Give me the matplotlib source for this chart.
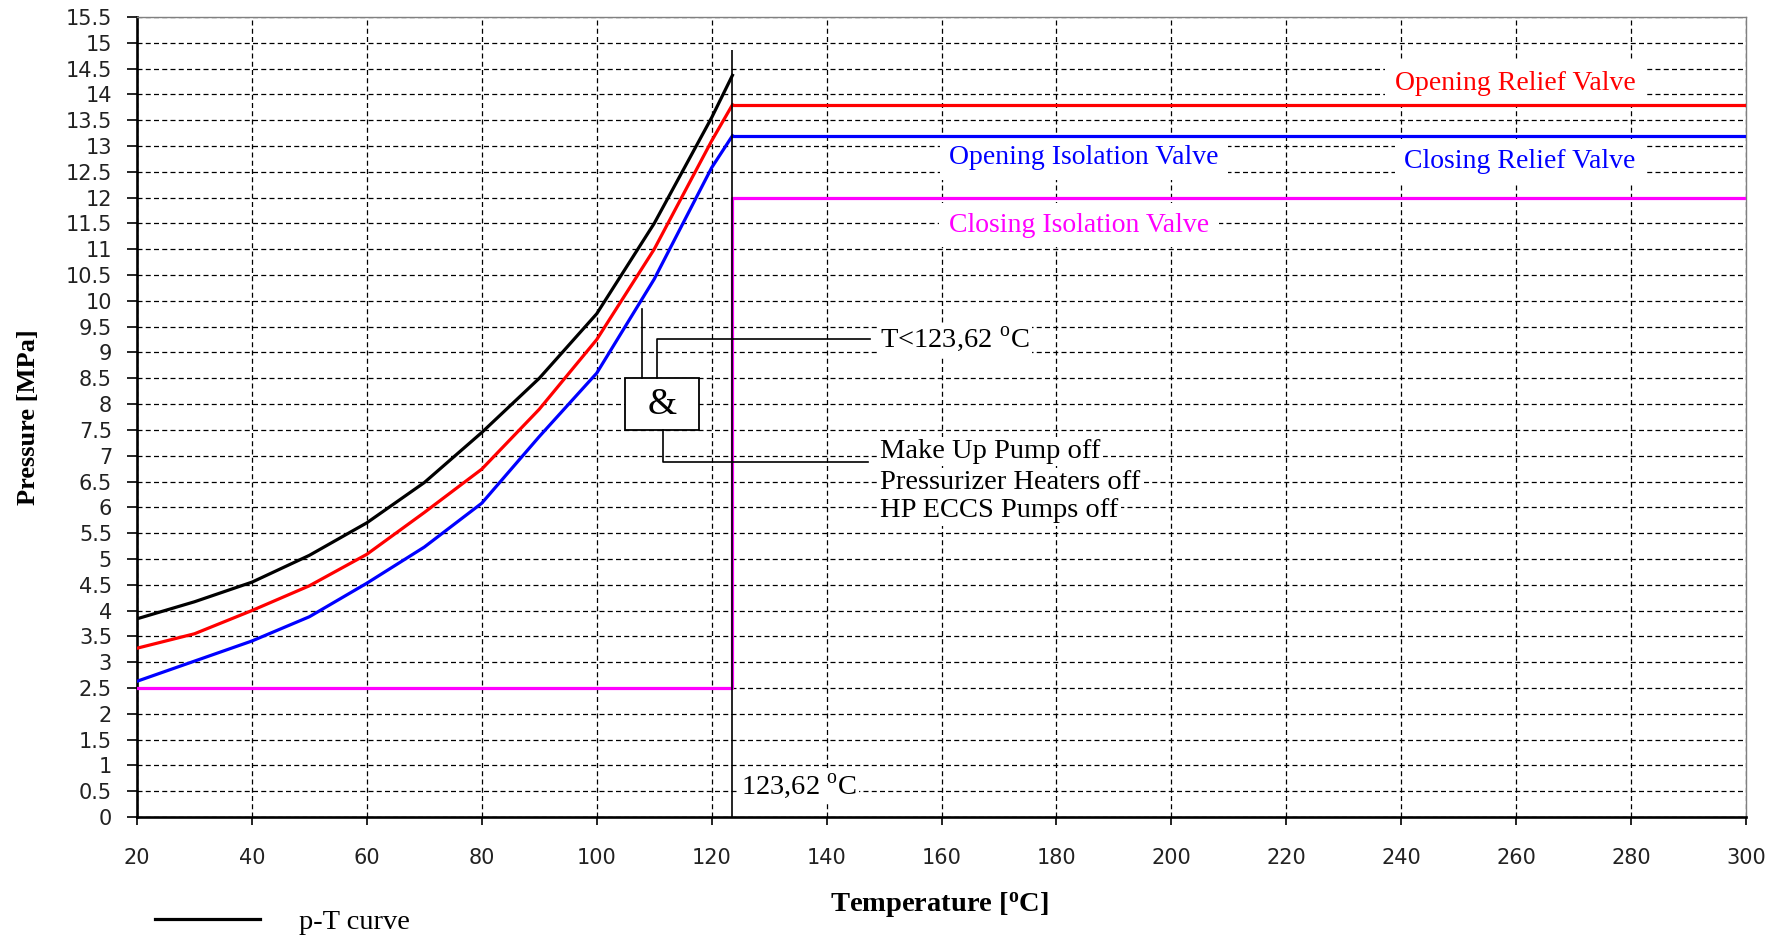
import numpy as np
import matplotlib
matplotlib.use('Agg')
import matplotlib.pyplot as plt
from matplotlib.patches import Rectangle

# Curves: pressure [MPa] vs temperature [degC]
temperature = [20, 30, 40, 50, 60, 70, 80, 90, 100, 110, 120, 123.62]
p_t_curve = [3.84, 4.17, 4.55, 5.07, 5.70, 6.48, 7.45, 8.50, 9.75, 11.50, 13.55, 14.37]
open_relief_curve = [3.27, 3.55, 4.00, 4.48, 5.09, 5.90, 6.74, 7.90, 9.25, 11.00, 13.10, 13.80]
close_relief_curve = [2.63, 3.02, 3.41, 3.88, 4.53, 5.23, 6.08, 7.37, 8.60, 10.42, 12.58, 13.20]

# Set points
T_LIMIT = 123.62
T_MAX = 300
P_OPEN_RELIEF = 13.8
P_CLOSE_RELIEF = 13.2
P_CLOSE_ISOL = 12.0
P_LOW_ISOL = 2.5
P_MARKER_TOP = 14.87

x_ticks = np.arange(20, 301, 20)
y_ticks = np.arange(0, 15.51, 0.5)

SERIF = 'Liberation Serif'
plt.rcParams['mathtext.fontset'] = 'custom'
plt.rcParams['mathtext.rm'] = SERIF
plt.rcParams['mathtext.bf'] = SERIF + ':bold'

RED = '#ff0000'
BLUE = '#0000ff'
MAGENTA = '#ff00ff'

fig = plt.figure(figsize=(17.76, 9.36), dpi=100)
ax = fig.add_axes([137 / 1776, 1 - 817 / 936, 1609 / 1776, 800 / 936])

ax.set_xlim(20, T_MAX)
ax.set_ylim(0, 15.5)
ax.set_xticks(x_ticks)
ax.set_yticks(y_ticks)
ax.set_yticklabels([f'{v:g}' for v in y_ticks])
ax.tick_params(axis='y', direction='out', length=7, width=1.2, pad=11, labelsize=15)
ax.tick_params(axis='x', direction='out', length=6, width=1.2, pad=16, labelsize=15)
for lab in ax.get_xticklabels() + ax.get_yticklabels():
    lab.set_color('#222222')

ax.set_axisbelow(True)
ax.grid(True, color='black', linestyle=(0, (4, 2.6)), linewidth=0.9)

for side in ['left', 'bottom']:
    ax.spines[side].set_linewidth(1.9)
for side in ['top', 'right']:
    ax.spines[side].set_color('#808080')
    ax.spines[side].set_linewidth(1)

# p-T curves
ax.plot(temperature, p_t_curve, color='black', lw=2.3, label='p-T curve', zorder=3)
ax.plot(temperature, open_relief_curve, color=RED, lw=2.3, zorder=3)
ax.plot(temperature, close_relief_curve, color=BLUE, lw=2.3, zorder=3)

# valve set points above the temperature limit
ax.hlines(P_OPEN_RELIEF, T_LIMIT, T_MAX, color=RED, lw=2.3, zorder=3)
ax.hlines(P_CLOSE_RELIEF, T_LIMIT, T_MAX, color=BLUE, lw=2.3, zorder=3)
ax.plot([temperature[0], T_LIMIT, T_LIMIT, T_MAX],
        [P_LOW_ISOL, P_LOW_ISOL, P_CLOSE_ISOL, P_CLOSE_ISOL],
        color=MAGENTA, lw=2.3, zorder=3)
ax.vlines(T_LIMIT, 0, P_MARKER_TOP, color='black', lw=1.2, zorder=4)

# labels of the set point lines
box = dict(facecolor='white', edgecolor='none', boxstyle='square,pad=0.35')
ax.text(259.8, 14.22, 'Opening Relief Valve', color=RED, family=SERIF, fontsize=20,
        ha='center', va='center', bbox=box, zorder=1.5)
ax.text(260.7, 12.70, 'Closing Relief Valve', color=BLUE, family=SERIF, fontsize=20,
        ha='center', va='center', bbox=box, zorder=1.5)
ax.text(184.8, 12.78, 'Opening Isolation Valve', color=BLUE, family=SERIF, fontsize=20,
        ha='center', va='center', bbox=box, zorder=1.5)
ax.text(183.9, 11.47, 'Closing Isolation Valve', color=MAGENTA, family=SERIF, fontsize=20,
        ha='center', va='center', bbox=box, zorder=1.5)

DEG_C = r'$^{\rm o}$C'
tight = dict(facecolor='white', edgecolor='none', boxstyle='square,pad=0.08')
ax.text(125.1, 0.59, '123,62 ' + DEG_C, family=SERIF, fontsize=20.5, ha='left', va='center',
        bbox=tight, zorder=1.5)

# AND logic block
ax.add_patch(Rectangle((104.9, 7.5), 12.9, 1.0, facecolor='white', edgecolor='black',
                       lw=1.3, zorder=3))
ax.text(111.35, 7.98, '&', family=SERIF, fontsize=27, ha='center', va='center', zorder=4)
ax.plot([107.9, 107.9], [8.5, 9.85], color='black', lw=1.2, zorder=3)
ax.plot([110.5, 110.5, 147.5], [8.5, 9.26, 9.26], color='black', lw=1.2, zorder=3)
ax.plot([111.5, 111.5, 147.2], [7.5, 6.88, 6.88], color='black', lw=1.2, zorder=3)

ax.text(149.3, 9.25, 'T<123,62 ' + DEG_C, family=SERIF, fontsize=20.5, ha='left',
        va='center', bbox=tight, zorder=1.5)
for y, s in [(7.08, 'Make Up Pump off'), (6.48, 'Pressurizer Heaters off'),
             (5.93, 'HP ECCS Pumps off')]:
    ax.text(149.3, y, s, family=SERIF, fontsize=20.5, ha='left', va='center',
            bbox=tight, zorder=1.5)

# axis labels
ax.set_xlabel(r'Temperature [$\mathbf{^{o}}$C]', family=SERIF, fontweight='bold',
              fontsize=20.5, va='center')
ax.xaxis.set_label_coords(0.499, -(905 - 817) / 800)
ax.set_ylabel('Pressure [MPa]', family=SERIF, fontweight='bold', fontsize=19, va='center')
ax.yaxis.set_label_coords(-(137 - 28) / 1609, 0.5)

fig.legend(loc='center left', bbox_to_anchor=(155 / 1776, 1 - 922 / 936), frameon=False,
           borderpad=0, borderaxespad=0, handlelength=3.7, handletextpad=1.35,
           prop={'family': SERIF, 'size': 20.5})

fig.savefig('out.png', dpi=100, facecolor='white')
